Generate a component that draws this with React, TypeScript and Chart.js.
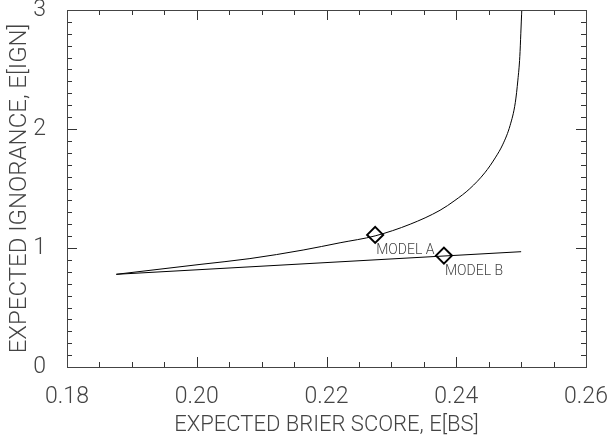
import React, { useEffect, useRef } from "react";
import { Chart, registerables } from "chart.js";

Chart.register(...registerables);

// Curve of expected ignorance vs expected Brier score
const curveBS = [0.1876, 0.2005, 0.2082, 0.2164, 0.2221, 0.2275, 0.2329, 0.2375, 0.2398, 0.2421, 0.2444, 0.246, 0.2472, 0.2483, 0.2491, 0.2495, 0.2498, 0.24995, 0.2501];
const curveIGN = [0.779, 0.862, 0.911, 0.983, 1.044, 1.102, 1.2, 1.317, 1.4, 1.499, 1.632, 1.757, 1.873, 2.03, 2.221, 2.411, 2.61, 2.8, 3.0];

// Straight lower line
const lineBS = [0.1876, 0.25];
const lineIGN = [0.779, 0.969];

// Models
const modelNames = ["MODEL A", "MODEL B"];
const modelBS = [0.2275, 0.2381];
const modelIGN = [1.11, 0.936];

// Axes
const xMin = 0.18, xMax = 0.26, xStep = 0.02, xMinor = 0.005;
const yMin = 0, yMax = 3, yStep = 1, yMinor = 0.1;
const xTitle = "EXPECTED BRIER SCORE, E[BS]";
const yTitle = "EXPECTED IGNORANCE, E[IGN]";

const FONT = "Roboto";
const TEXT = "#444";

const innerTicks = {
  id: "innerTicks",
  afterDraw(chart: any) {
    const { ctx, chartArea: a, scales } = chart;
    const xs = scales.x, ys = scales.y;
    ctx.save();
    ctx.strokeStyle = "#333";
    ctx.lineWidth = 1;
    ctx.beginPath();
    const nx = Math.round((xMax - xMin) / xMinor);
    for (let i = 0; i <= nx; i++) {
      const v = xMin + i * xMinor;
      const major = i % Math.round(xStep / xMinor) === 0;
      const len = major ? 10 : 5;
      const px = Math.round(xs.getPixelForValue(v)) + 0.5;
      ctx.moveTo(px, a.bottom);
      ctx.lineTo(px, a.bottom - len);
      ctx.moveTo(px, a.top);
      ctx.lineTo(px, a.top + len);
    }
    const ny = Math.round((yMax - yMin) / yMinor);
    for (let i = 0; i <= ny; i++) {
      const v = yMin + i * yMinor;
      const major = i % Math.round(yStep / yMinor) === 0;
      const len = major ? 10 : 5;
      const py = Math.round(ys.getPixelForValue(v)) + 0.5;
      ctx.moveTo(a.left, py);
      ctx.lineTo(a.left + len, py);
      ctx.moveTo(a.right, py);
      ctx.lineTo(a.right - len, py);
    }
    ctx.stroke();
    ctx.strokeStyle = "#444";
    ctx.strokeRect(Math.round(a.left) + 0.5, Math.round(a.top) + 0.5, Math.round(a.right - a.left), Math.round(a.bottom - a.top));
    // model labels
    ctx.font = `300 14px ${FONT}`;
    ctx.fillStyle = TEXT;
    ctx.textAlign = "left";
    ctx.textBaseline = "top";
    for (let i = 0; i < modelNames.length; i++) {
      const px = xs.getPixelForValue(modelBS[i]);
      const py = ys.getPixelForValue(modelIGN[i]);
      ctx.fillText(modelNames[i], px + 1, py + 9);
    }
    ctx.restore();
  },
};

export default function App() {
  const ref = useRef<HTMLCanvasElement>(null);
  useEffect(() => {
    if (!ref.current) return;
    const chart = new Chart(ref.current, {
      type: "scatter",
      data: {
        datasets: [
          {
            data: curveBS.map((x, i) => ({ x, y: curveIGN[i] })),
            showLine: true,
            borderColor: "#000",
            borderWidth: 1,
            pointRadius: 0,
            cubicInterpolationMode: "monotone",
          },
          {
            data: lineBS.map((x, i) => ({ x, y: lineIGN[i] })),
            showLine: true,
            borderColor: "#000",
            borderWidth: 1,
            pointRadius: 0,
          },
          {
            data: modelBS.map((x, i) => ({ x, y: modelIGN[i] })),
            showLine: false,
            pointStyle: "rectRot",
            pointRadius: 8,
            pointBorderWidth: 2,
            pointBorderColor: "#000",
            pointBackgroundColor: "rgba(0,0,0,0)",
          },
        ],
      },
      options: {
        animation: false,
        responsive: false,
        events: [],
        layout: { padding: { top: 5, right: 22, bottom: 0, left: 0 } },
        plugins: { legend: { display: false }, tooltip: { enabled: false } },
        scales: {
          x: {
            type: "linear",
            min: xMin,
            max: xMax,
            grid: { display: false },
            border: { display: false },
            ticks: {
              stepSize: xStep,
              padding: 8,
              color: TEXT,
              font: { family: FONT, size: 23, weight: "300" },
              maxRotation: 0,
              callback: (v: any) => Number(v).toFixed(2),
            },
            title: {
              display: true,
              text: xTitle,
              color: TEXT,
              font: { family: FONT, size: 22, weight: "300" },
              padding: { top: 8, bottom: 0 },
            },
            afterFit: (s: any) => {
              s.height = 72;
              s.paddingRight = 0;
              s.paddingLeft = 0;
            },
          },
          y: {
            type: "linear",
            min: yMin,
            max: yMax,
            grid: { display: false },
            border: { display: false },
            ticks: {
              stepSize: yStep,
              padding: 13,
              color: TEXT,
              font: { family: FONT, size: 23, weight: "300" },
              callback: (v: any) => String(Math.round(Number(v))),
            },
            title: {
              display: true,
              text: yTitle,
              color: TEXT,
              font: { family: FONT, size: 24, weight: "300" },
              padding: { top: 6, bottom: 0 },
            },
            afterFit: (s: any) => {
              s.width = 67;
              s.paddingTop = 0;
              s.paddingBottom = 0;
            },
          },
        },
      },
      plugins: [innerTicks],
    } as any);
    return () => chart.destroy();
  }, []);
  return (
    <div style={{ position: "absolute", left: 0, top: 0, width: 608, height: 439, background: "#fff" }}>
      <canvas ref={ref} width={608} height={439} />
    </div>
  );
}
